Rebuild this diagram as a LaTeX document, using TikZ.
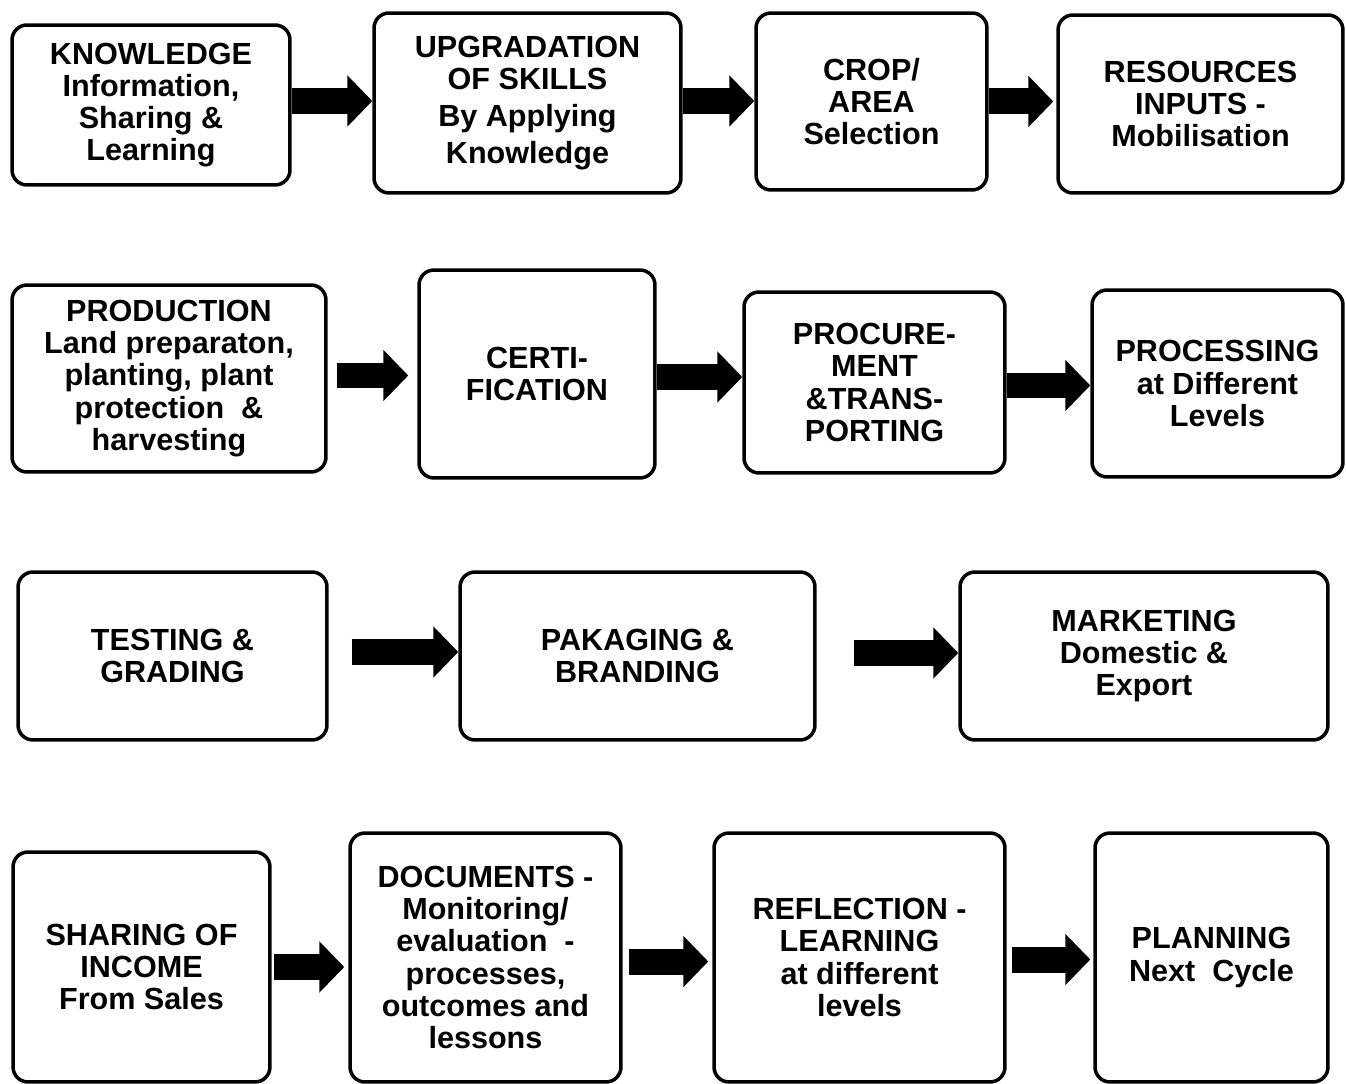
\documentclass[tikz,border=0pt]{standalone}
\usepackage{fontspec}
\setmainfont{Liberation Sans}
\usetikzlibrary{arrows.meta}

\tikzset{
  stage/.style={draw, line width=2pt, rounded corners=0.3cm, align=center, inner sep=0pt,
    font=\bfseries\fontsize{17.4}{18.3}\selectfont},
  flow/.style={line width=0.52cm, -{Triangle[length=0.5cm,width=1cm]}}
}

\begin{document}
\begin{tikzpicture}[x=0.02cm,y=-0.02cm]
\useasboundingbox (0,0) rectangle (1346,1084);
%Row 1
\node[stage, minimum width=5.56cm, minimum height=3.2cm] (know) at (151,105) {KNOWLEDGE\\Information,\\Sharing \&\\Learning};
\node[stage, minimum width=6.14cm, minimum height=3.6cm] (skill) at (527.5,103) {UPGRADATION\\OF SKILLS\\[2.5pt]By Applying\\[2.5pt]Knowledge};
\node[stage, minimum width=4.62cm, minimum height=3.54cm] (crop) at (871.5,101.5) {CROP/\\AREA\\Selection};
\node[stage, minimum width=5.7cm, minimum height=3.56cm] (resrc) at (1200.5,104) {RESOURCES\\INPUTS -\\Mobilisation};
%Row 2
\node[stage, minimum width=6.28cm, minimum height=3.74cm] (prod) at (169,378.5) {PRODUCTION\\Land preparaton,\\planting, plant\\protection \ \&\\harvesting};
\node[stage, minimum width=4.72cm, minimum height=4.16cm] (cert) at (537,374) {CERTI-\\FICATION};
\node[stage, minimum width=5.22cm, minimum height=3.62cm] (procu) at (874.5,382.5) {PROCURE-\\MENT\\\&TRANS-\\PORTING};
\node[stage, minimum width=5.02cm, minimum height=3.74cm] (procs) at (1217.5,383.5) {PROCESSING\\at Different\\Levels};
%Row 3
\node[stage, minimum width=6.18cm, minimum height=3.36cm] (test) at (172.5,656) {TESTING \&\\GRADING};
\node[stage, minimum width=7.1cm, minimum height=3.36cm] (pack) at (637.5,656) {PAKAGING \&\\BRANDING};
\node[stage, minimum width=7.36cm, minimum height=3.36cm] (mrkt) at (1144,656) {MARKETING\\Domestic \&\\Export};
%Row 4
\node[stage, minimum width=5.14cm, minimum height=4.6cm] (share) at (141.5,967) {SHARING OF\\INCOME\\From Sales};
\node[stage, minimum width=5.42cm, minimum height=4.98cm] (docs) at (485.5,957.5) {DOCUMENTS -\\Monitoring/\\evaluation \ -\\processes,\\outcomes and\\lessons};
\node[stage, minimum width=5.82cm, minimum height=4.98cm] (refl) at (859.5,957.5) {REFLECTION -\\LEARNING\\at different\\levels};
\node[stage, minimum width=4.66cm, minimum height=4.98cm] (plan) at (1211.5,957.5) {PLANNING\\Next \ Cycle};
%Arrows
\draw[flow] ([yshift=0.08cm]know.east) -- ([yshift=0.08cm]know.east -| skill.west);
\draw[flow] ([yshift=0.04cm]skill.east) -- ([yshift=0.04cm]skill.east -| crop.west);
\draw[flow] (crop.east) -- ([xshift=-0.06cm]crop.east -| resrc.west);
\draw[flow, shorten <=0.18cm, shorten >=0.18cm] ([yshift=0.06cm]prod.east) -- ([yshift=0.06cm]prod.east -| cert.west);
\draw[flow] ([yshift=-0.06cm]cert.east) -- ([yshift=-0.06cm]cert.east -| procu.west);
\draw[flow] ([yshift=-0.06cm]procu.east) -- ([yshift=-0.06cm]procu.east -| procs.west);
\draw[flow, shorten <=0.46cm] ([yshift=0.08cm]test.east) -- ([yshift=0.08cm]test.east -| pack.west);
\draw[flow, shorten <=0.74cm] ([yshift=0.06cm]pack.east) -- ([yshift=0.06cm]pack.east -| mrkt.west);
\draw[flow, shorten <=0.04cm, shorten >=0.08cm] (share.east) -- (share.east -| docs.west);
\draw[flow, shorten <=0.12cm, shorten >=0.08cm] ([yshift=-0.08cm]docs.east) -- ([yshift=-0.08cm]docs.east -| refl.west);
\draw[flow, shorten <=0.1cm, shorten >=0.06cm] ([yshift=-0.04cm]refl.east) -- ([yshift=-0.04cm]refl.east -| plan.west);
\end{tikzpicture}
\end{document}
